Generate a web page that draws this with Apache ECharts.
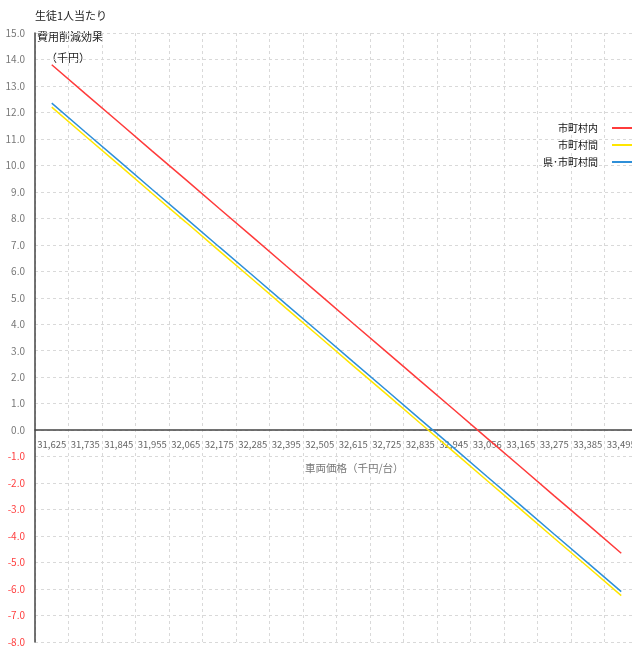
<!DOCTYPE html>
<html><head><meta charset="utf-8">
<script src="https://cdn.jsdelivr.net/npm/echarts@6/dist/echarts.min.js"></script>
<style>html,body{margin:0;padding:0;background:#fff}#c{width:632px;height:646px}</style>
</head><body><div id="c"></div>
<script>
const categories = ['31,625','31,735','31,845','31,955','32,065','32,175','32,285','32,395','32,505','32,615','32,725','32,835','32,945','33,056','33,165','33,275','33,385','33,495'];
const withinMunicipality = [13.80,12.71,11.63,10.54,9.46,8.37,7.29,6.20,5.12,4.03,2.95,1.86,0.78,-0.31,-1.39,-2.48,-3.56,-4.65];
const betweenMunicipalities = [12.20,11.11,10.03,8.94,7.86,6.77,5.69,4.60,3.52,2.43,1.35,0.26,-0.82,-1.91,-2.99,-4.08,-5.16,-6.25];
const prefAndMunicipalities = [12.35,11.26,10.18,9.09,8.01,6.92,5.84,4.75,3.67,2.58,1.50,0.41,-0.67,-1.76,-2.84,-3.93,-5.01,-6.10];
const seriesNames = ['市町村内','市町村間','県･市町村間'];
const seriesColors = ['#ff3b3b','#ffe600','#2e8fd8'];

const font = '"Noto Sans CJK JP", "Noto Sans", sans-serif';
const chart = echarts.init(document.getElementById('c'));
const data = [withinMunicipality, betweenMunicipalities, prefAndMunicipalities];
chart.setOption({
  animation: false,
  textStyle: {fontFamily: font},
  grid: {left: 35, top: 33, right: -6, bottom: 4, containLabel: false, outerBoundsMode: 'none'},
  legend: {
    orient: 'vertical', right: -5, top: 118, align: 'right',
    itemWidth: 20, itemHeight: 2, itemGap: 7,
    icon: 'rect',
    textStyle: {fontSize: 10, color: '#111', fontFamily: font, padding: [0, 9, 0, 0]},
    data: seriesNames
  },
  xAxis: {
    type: 'category', data: categories, boundaryGap: true,
    axisLine: {onZero: false, lineStyle: {color: '#444', width: 1.5}},
    offset: -212,
    axisTick: {show: false},
    axisLabel: {color: '#666', fontSize: 9.5, margin: 10, interval: 0},
    splitLine: {show: true, lineStyle: {color: '#d9d9d9', type: [3,3]}}
  },
  yAxis: {
    type: 'value', min: -8, max: 15, interval: 1,
    axisLine: {show: true, lineStyle: {color: '#444', width: 1.5}},
    axisTick: {show: false},
    axisLabel: {fontSize: 10, margin: 10,
      formatter: v => v.toFixed(1),
      color: v => (Number(v) < 0 ? '#ff4040' : '#777')},
    splitLine: {lineStyle: {color: '#d9d9d9', type: [3,3]}}
  },
  series: seriesNames.map((n, i) => ({
    name: n, type: 'line', data: data[i], symbol: 'none',
    lineStyle: {color: seriesColors[i], width: 1.5},
    itemStyle: {color: seriesColors[i]}
  })),
  graphic: [
    {type: 'text', left: 35, top: 10, style: {text: '生徒1人当たり', fontSize: 11, fill: '#222', fontFamily: font}},
    {type: 'text', left: 37, top: 31, style: {text: '費用削減効果', fontSize: 11, fill: '#222', fontFamily: font}},
    {type: 'text', left: 46, top: 52, style: {text: '（千円）', fontSize: 11, fill: '#222', fontFamily: font}},
    {type: 'text', left: 305, top: 463, style: {text: '車両価格（千円/台）', fontSize: 10.5, fill: '#777', fontFamily: font}}
  ]
});
</script></body></html>
